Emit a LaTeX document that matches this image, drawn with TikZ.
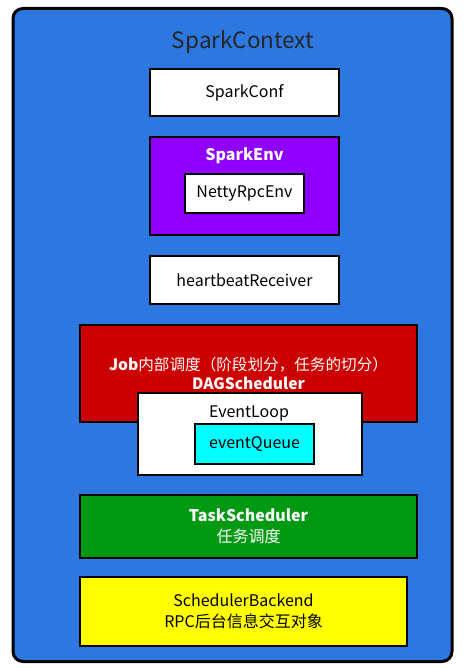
\documentclass[tikz,border=0pt]{standalone}
\usepackage{fontspec}
\setmainfont{Noto Sans CJK SC}
\definecolor{ctxblue}{RGB}{44,120,224}
\definecolor{envpurple}{RGB}{143,0,255}
\definecolor{dagred}{RGB}{204,0,0}
\definecolor{taskgreen}{RGB}{0,153,17}
\definecolor{backyellow}{RGB}{255,255,0}
\definecolor{queuecyan}{RGB}{0,255,255}
\begin{document}
\begin{tikzpicture}[x=1pt,y=-1pt,
  box/.style={draw=black,line width=2pt,inner sep=0pt,align=center,font=\fontsize{16}{21}\selectfont},
  plain/.style={inner sep=0pt,align=center,font=\fontsize{16}{21}\selectfont}]
\fill[white] (0,0) rectangle (466,668);
\useasboundingbox (0,0) rectangle (466,668);
\node[draw=black,line width=3pt,rounded corners=10pt,fill=ctxblue,minimum width=439pt,minimum height=653pt,inner sep=0pt] (ctx) at (232.5,335) {};
\node[plain,font=\fontsize{22.5}{26}\selectfont,text=black!85] (ctxtitle) at (243,42) {SparkContext};
\node[box,fill=white,minimum width=189pt,minimum height=47pt] (conf) at (244.5,92.5) {SparkConf};
\node[box,fill=envpurple,minimum width=189pt,minimum height=98pt] (env) at (244.5,186) {};
\node[plain,text=white,font=\bfseries\fontsize{16}{21}\selectfont] (envtitle) at (244.5,156) {SparkEnv};
\node[box,fill=white,minimum width=119pt,minimum height=39pt] (netty) at (244.5,193.5) {NettyRpcEnv};
\node[box,fill=white,minimum width=189pt,minimum height=48pt] (hb) at (244.5,280) {heartbeatReceiver};
\node[box,fill=dagred,text=white,minimum width=337pt,minimum height=97pt,font=\fontsize{15.6}{19}\selectfont] (dag) at (248.5,373.5) {\textbf{Job}内部调度（阶段划分，任务的切分）\\\textbf{DAGScheduler}};
\node[box,fill=white,minimum width=224pt,minimum height=82pt] (loop) at (250,434) {};
\node[plain] (looptitle) at (249,413) {EventLoop};
\node[box,fill=queuecyan,minimum width=119pt,minimum height=40pt] (queue) at (254.5,444) {eventQueue};
\node[box,fill=taskgreen,text=white,minimum width=337pt,minimum height=63pt] (task) at (248.5,526.5) {\textbf{TaskScheduler}\\任务调度};
\node[box,fill=backyellow,minimum width=327pt,minimum height=69pt] (backend) at (243.5,611.5) {SchedulerBackend\\RPC后台信息交互对象};
\end{tikzpicture}
\end{document}
